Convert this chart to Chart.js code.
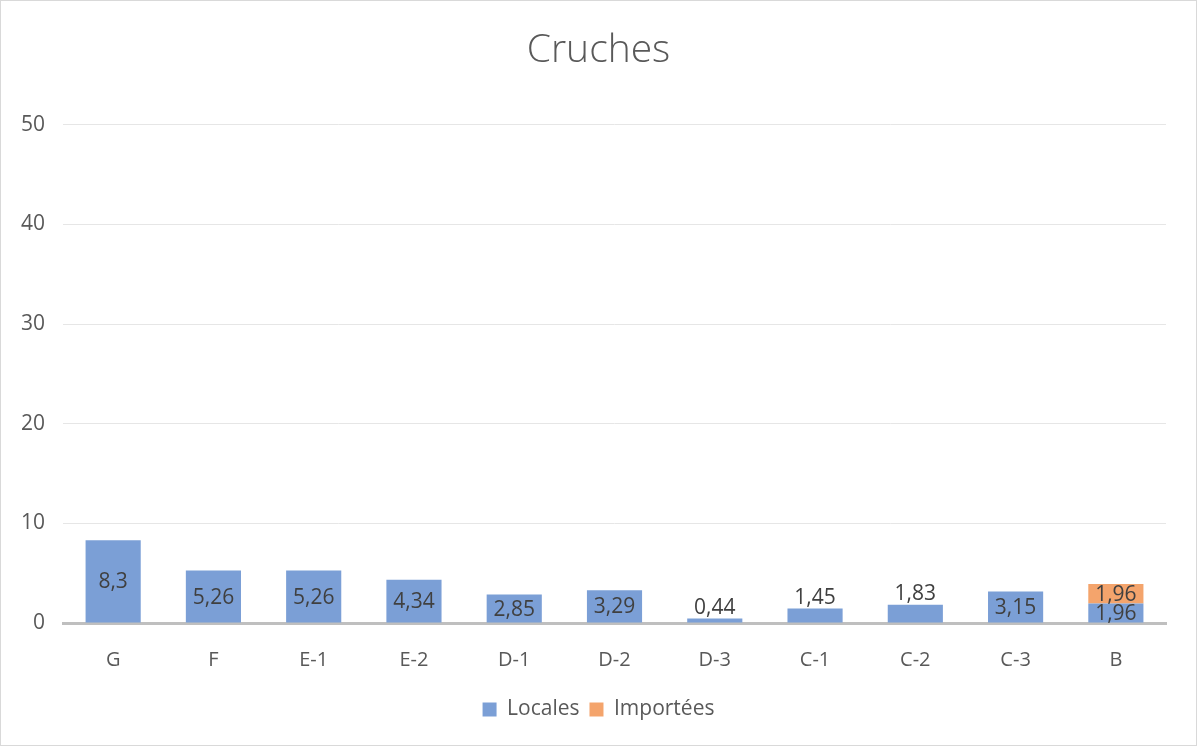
<!DOCTYPE html>
<html>
<head>
<meta charset="utf-8">
<script src="https://cdn.jsdelivr.net/npm/chart.js@4/dist/chart.umd.min.js"></script>
<style>
  html, body { margin: 0; padding: 0; background: #fff; }
  #wrap { width: 1197px; height: 746px; box-sizing: border-box; border: 1px solid #d9d9d9; }
  canvas { display: block; }
</style>
</head>
<body>
<div id="wrap"><canvas id="chart" width="1195" height="744"></canvas></div>
<script>
const categories = ["G", "F", "E-1", "E-2", "D-1", "D-2", "D-3", "C-1", "C-2", "C-3", "B"];
const locales = [8.3, 5.26, 5.26, 4.34, 2.85, 3.29, 0.44, 1.45, 1.83, 3.15, 1.96];
const importees = [0, 0, 0, 0, 0, 0, 0, 0, 0, 0, 1.96];
const yTicks = [0, 10, 20, 30, 40, 50];

const FONT = "'Open Sans', 'Noto Sans', sans-serif";

// value labels: centred in the bar, above it when a lone small bar is too short
const barLabels = {
  id: 'barLabels',
  afterDatasetsDraw(chart) {
    const ctx = chart.ctx;
    ctx.save();
    ctx.font = "21px " + FONT;
    ctx.fillStyle = "#404040";
    ctx.textAlign = "center";
    chart.data.datasets.forEach((ds, di) => {
      const meta = chart.getDatasetMeta(di);
      meta.data.forEach((bar, i) => {
        const v = ds.data[i];
        if (!v) return;
        const txt = String(v).replace('.', ',');
        const segs = chart.data.datasets.filter(d => d.data[i]).length;
        if (v < 2 && segs === 1) {
          ctx.textBaseline = "bottom";
          ctx.fillText(txt, bar.x, bar.y);
        } else {
          ctx.textBaseline = "middle";
          ctx.fillText(txt, bar.x, (bar.y + bar.base) / 2 + 1);
        }
      });
    });
    ctx.restore();
  }
};

new Chart(document.getElementById("chart"), {
  type: 'bar',
  data: {
    labels: categories,
    datasets: [
      { label: 'Locales', data: locales, backgroundColor: '#7b9fd6', barPercentage: 0.55, categoryPercentage: 1 },
      { label: 'Importées', data: importees, backgroundColor: '#f4a46c', barPercentage: 0.55, categoryPercentage: 1 }
    ]
  },
  options: {
    responsive: false,
    animation: false,
    layout: { padding: { left: 2, right: 2, top: 10, bottom: 15 } },
    plugins: {
      title: {
        display: true, text: 'Cruches', color: '#595959',
        font: { family: FONT, size: 39, weight: 300 },
        padding: { top: 16, bottom: 51 }
      },
      legend: {
        position: 'bottom',
        labels: {
          color: '#595959', font: { family: FONT, size: 21 },
          boxWidth: 14, boxHeight: 14, padding: 10
        }
      },
      tooltip: { enabled: false }
    },
    scales: {
      x: {
        stacked: true,
        grid: { display: false },
        border: { color: '#bfbfbf', width: 3 },
        ticks: { color: '#595959', font: { family: FONT, size: 20 }, padding: 17 }
      },
      y: {
        stacked: true,
        min: 0, max: 50,
        afterBuildTicks: axis => { axis.ticks = yTicks.map(v => ({ value: v })); },
        grid: { color: '#e6e6e6', drawTicks: false },
        border: { display: false },
        ticks: { color: '#595959', font: { family: FONT, size: 21 }, padding: 18 }
      },
      // empty right margin so title and legend stay centred on the whole chart
      yRight: {
        position: 'right',
        grid: { display: false },
        border: { display: false },
        ticks: { display: false },
        afterFit: s => { s.width = 28; }
      }
    }
  },
  plugins: [barLabels]
});
</script>
</body>
</html>
